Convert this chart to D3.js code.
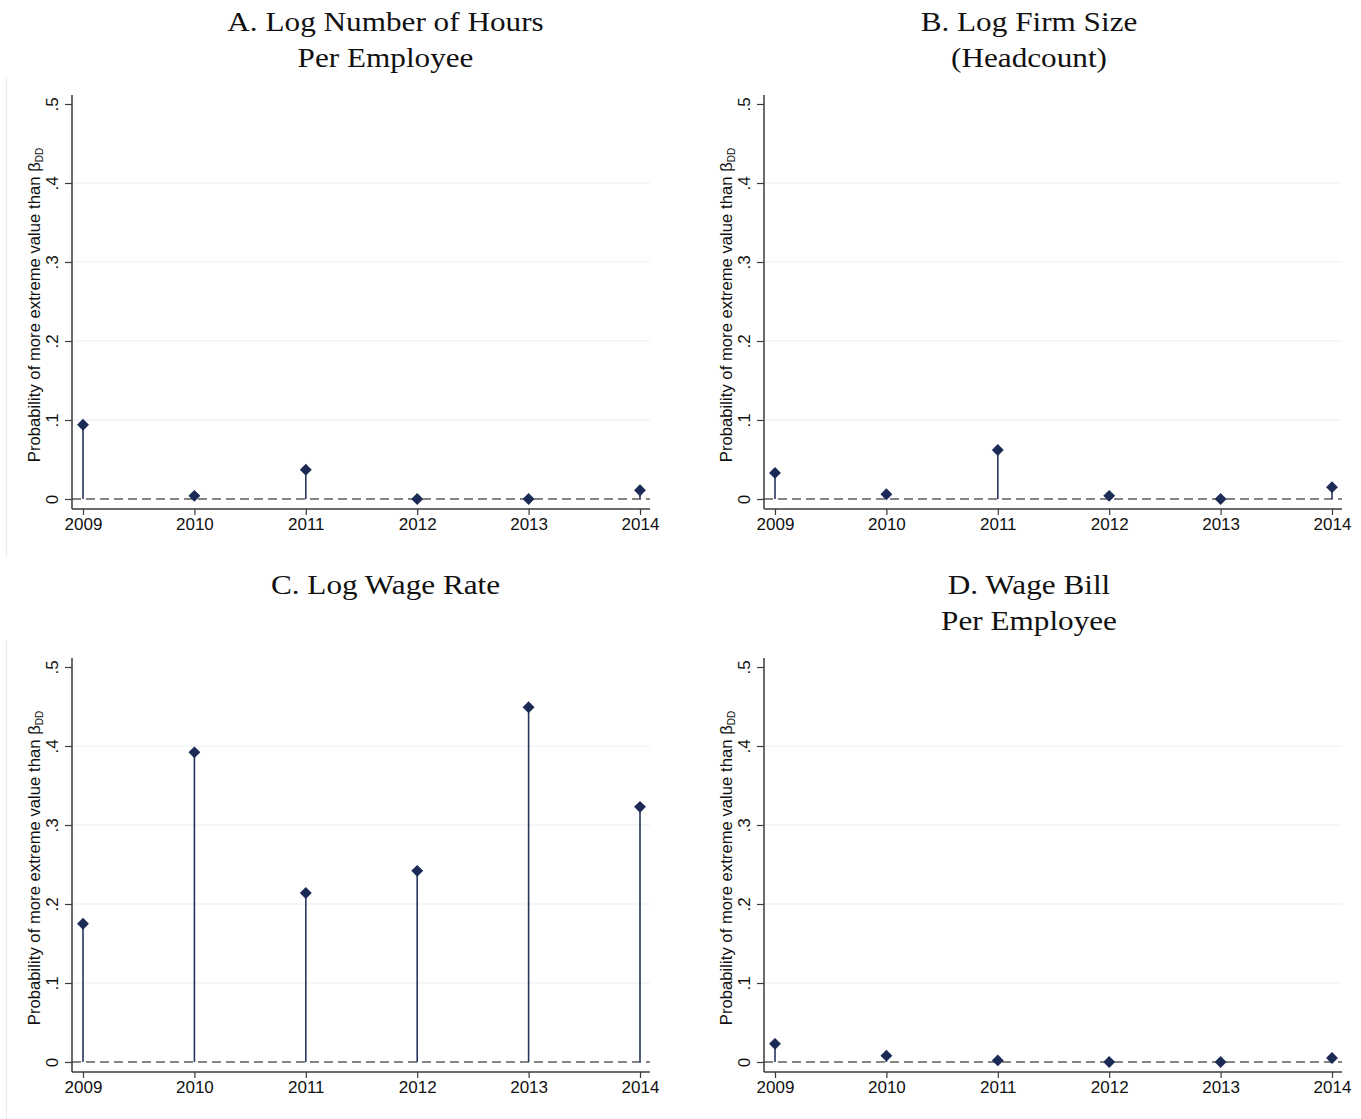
<!DOCTYPE html>
<html><head><meta charset="utf-8">
<script src="https://cdn.jsdelivr.net/npm/d3@7"></script>
<style>
body{margin:0;background:#fff;}
svg{display:block;}
</style></head>
<body>
<svg id="chart" width="1361" height="1119"></svg>
<script>
const years = [2009, 2010, 2011, 2012, 2013, 2014];
const yTicks = [0, 0.1, 0.2, 0.3, 0.4, 0.5];
const yTickLabels = ["0", ".1", ".2", ".3", ".4", ".5"];
const gridTicks = [0.1, 0.2, 0.3, 0.4];
const hoursPerEmployee = [0.094, 0.004, 0.037, 0.000, 0.000, 0.011];
const firmSize = [0.033, 0.006, 0.062, 0.004, 0.000, 0.015];
const wageRate = [0.175, 0.392, 0.214, 0.242, 0.449, 0.323];
const wageBill = [0.023, 0.008, 0.002, 0.000, 0.000, 0.005];
const titles = [
  ["A. Log Number of Hours", "Per Employee"],
  ["B. Log Firm Size", "(Headcount)"],
  ["C. Log Wage Rate"],
  ["D. Wage Bill", "Per Employee"]
];
const yLabel = "Probability of more extreme value than ";

const panels = [
  {vals: hoursPerEmployee, title: titles[0], ox: 0, oy: 0, tcx: 385.5},
  {vals: firmSize, title: titles[1], ox: 692, oy: 0, tcx: 337},
  {vals: wageRate, title: titles[2], ox: 0, oy: 563, tcx: 385.5},
  {vals: wageBill, title: titles[3], ox: 692, oy: 563, tcx: 337}
];

const svg = d3.select("#chart");
const navy = "#1c2b55";
const stemCol = "#26365f";
const axisCol = "#3a3a3a";
const sansFont = "'Liberation Sans', Arial, sans-serif";

// faint outer frame lines on left
svg.append("line").attr("x1",6.5).attr("x2",6.5).attr("y1",78).attr("y2",557).attr("stroke","#e6ecf1").attr("stroke-width",1.2);
svg.append("line").attr("x1",6.5).attr("x2",6.5).attr("y1",640).attr("y2",1119).attr("stroke","#e6ecf1").attr("stroke-width",1.2);

panels.forEach(p => {
  const g = svg.append("g").attr("transform", `translate(${p.ox},${p.oy})`);
  const left = 72, right = 650, top = 95, bottom = 509;
  const x = d3.scaleLinear().domain([2009, 2014]).range([83, 640]);
  const y = d3.scaleLinear().domain([0, 0.5]).range([499, 104]);

  // title
  p.title.forEach((t, i) => {
    g.append("text")
      .attr("transform", `translate(${p.tcx},${31 + i * 36}) scale(1.115,1)`)
      .attr("text-anchor", "middle")
      .attr("font-family", "'Liberation Serif', 'DejaVu Serif', serif")
      .attr("font-size", 28).attr("fill", "#111").text(t);
  });

  // grid
  g.selectAll(".grid").data(gridTicks).enter().append("line")
    .attr("x1", left).attr("x2", right)
    .attr("y1", d => y(d)).attr("y2", d => y(d))
    .attr("stroke", "#e8f0f4").attr("stroke-width", 1.2);

  // zero dashed line
  g.append("line").attr("x1", left).attr("x2", right)
    .attr("y1", y(0)).attr("y2", y(0))
    .attr("stroke", "#858585").attr("stroke-width", 2.2)
    .attr("stroke-dasharray", "9,5");

  // y axis
  const yAxis = d3.axisLeft(y).tickValues(yTicks)
    .tickFormat((d, i) => yTickLabels[i]).tickSize(7).tickPadding(4);
  const ya = g.append("g").attr("transform", `translate(${left},0)`).call(yAxis);
  ya.select(".domain").remove();
  ya.selectAll(".tick line").attr("stroke", axisCol).attr("stroke-width", 1.2);
  ya.selectAll(".tick text")
    .attr("font-family", sansFont)
    .attr("font-size", 17).attr("fill", "#111")
    .attr("text-anchor", "middle").attr("dy", null).attr("x", null)
    .attr("transform", "translate(-14.5,0) rotate(-90)");
  g.append("line").attr("x1", left).attr("x2", left).attr("y1", top).attr("y2", bottom)
    .attr("stroke", axisCol).attr("stroke-width", 1.5);

  // x axis
  const xAxis = d3.axisBottom(x).tickValues(years).tickFormat(d3.format("d")).tickSize(6).tickPadding(3);
  const xa = g.append("g").attr("transform", `translate(0,${bottom})`).call(xAxis);
  xa.select(".domain").remove();
  xa.selectAll(".tick line").attr("stroke", axisCol).attr("stroke-width", 1.2);
  xa.selectAll(".tick text")
    .attr("font-family", sansFont)
    .attr("font-size", 17).attr("fill", "#111");
  g.append("line").attr("x1", left).attr("x2", right).attr("y1", bottom).attr("y2", bottom)
    .attr("stroke", axisCol).attr("stroke-width", 1.5);

  // y label
  const yl = g.append("text")
    .attr("transform", `translate(39.5,${(top + bottom) / 2 + 3}) rotate(-90)`)
    .attr("text-anchor", "middle")
    .attr("font-family", sansFont)
    .attr("font-size", 16.7).attr("fill", "#111");
  yl.append("tspan").text(yLabel + "β");
  yl.append("tspan").attr("font-size", 10).attr("dy", 3).text("DD");

  // stems
  g.selectAll(".stem").data(p.vals).enter().append("line")
    .attr("x1", (d, i) => x(years[i])).attr("x2", (d, i) => x(years[i]))
    .attr("y1", y(0)).attr("y2", d => y(d))
    .attr("stroke", stemCol).attr("stroke-width", 1.6);

  // markers
  const sym = d3.symbol().type(d3.symbolDiamond2).size(90);
  g.selectAll(".pt").data(p.vals).enter().append("path")
    .attr("d", sym)
    .attr("transform", (d, i) => `translate(${x(years[i])},${y(d)})`)
    .attr("fill", navy);
});
</script>
</body></html>
